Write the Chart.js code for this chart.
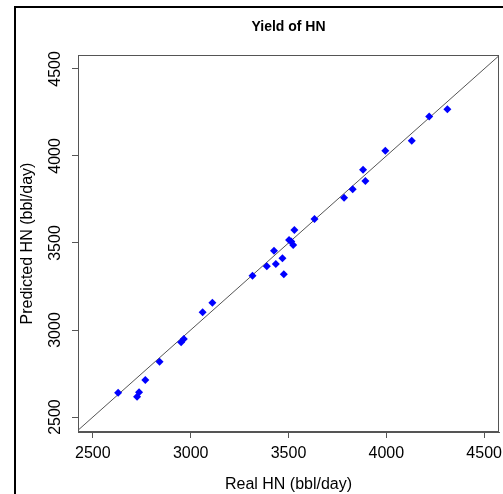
<!DOCTYPE html>
<html>
<head>
<meta charset="utf-8">
<script src="https://cdn.jsdelivr.net/npm/chart.js@4.4.0/dist/chart.umd.min.js"></script>
<style>
  html, body { margin: 0; padding: 0; background: #fff; }
</style>
</head>
<body>
<canvas id="yieldChart" width="503" height="494"></canvas>
<script>
// Données
const realHN = [2629, 2726, 2736, 2768, 2841, 2951, 2965, 3061, 3111, 3316, 3389, 3426, 3435, 3469,
                3476, 3503, 3514, 3524, 3530, 3633, 3784, 3828, 3881, 3893, 3995, 4130, 4219, 4312];
const predHN = [2640, 2617, 2642, 2713, 2818, 2929, 2948, 3102, 3157, 3312, 3366, 3456, 3379, 3412,
                3320, 3517, 3508, 3489, 3575, 3638, 3760, 3808, 3921, 3856, 4030, 4088, 4226, 4268];
const tickValues = [2500, 3000, 3500, 4000, 4500];
const xRange = [2424, 4576];
const yRange = [2414, 4580];
const diagonal = [2400, 4600];

const font = 'Liberation Sans, Arial, sans-serif';

// cadre, titre et étiquettes de l'axe y
const framePlugin = {
    id: 'frame',
    beforeDraw(chart) {
        const ctx = chart.ctx;
        ctx.save();
        ctx.fillStyle = '#fff';
        ctx.fillRect(0, 0, chart.width, chart.height);
        ctx.restore();
    },
    afterDraw(chart) {
        const { ctx, chartArea: a, scales } = chart;
        ctx.save();
        ctx.strokeStyle = '#555';
        ctx.lineWidth = 1;
        ctx.strokeRect(a.left + 0.5, a.top + 0.5, a.right - a.left - 1, a.bottom - a.top - 1);

        ctx.strokeStyle = '#000';
        ctx.lineWidth = 2;
        ctx.beginPath();
        ctx.moveTo(15, chart.height);
        ctx.lineTo(15, 7);
        ctx.lineTo(chart.width, 7);
        ctx.stroke();

        ctx.fillStyle = '#000';
        ctx.font = 'bold 14px ' + font;
        ctx.textAlign = 'center';
        ctx.textBaseline = 'middle';
        ctx.fillText('Yield of HN', (a.left + a.right) / 2, 27);

        ctx.font = '16px ' + font;
        tickValues.forEach(v => {
            const py = scales.y.getPixelForValue(v);
            ctx.save();
            ctx.translate(56, py);
            ctx.rotate(-Math.PI / 2);
            ctx.fillText(String(v), 0, 0);
            ctx.restore();
        });
        ctx.restore();
    }
};

const chart = new Chart(document.getElementById('yieldChart'), {
    type: 'scatter',
    data: {
        datasets: [
            {
                label: 'HN',
                data: realHN.map((x, i) => ({ x: x, y: predHN[i] })),
                backgroundColor: '#0000ff',
                borderColor: '#0000ff',
                pointStyle: 'rectRot',
                pointRadius: 4,
                borderWidth: 0,
            },
            {
                type: 'line',
                label: 'y = x',
                data: diagonal.map(v => ({ x: v, y: v })),
                borderColor: '#555',
                borderWidth: 1,
                pointRadius: 0,
                fill: false,
                order: 1,
            },
        ],
    },
    options: {
        responsive: false,
        animation: false,
        layout: { padding: { top: 55, right: 2, left: 0, bottom: 0 } },
        plugins: {
            legend: { display: false },
            tooltip: { enabled: false },
        },
        scales: {
            x: {
                type: 'linear',
                min: xRange[0],
                max: xRange[1],
                afterBuildTicks: s => { s.ticks = tickValues.map(v => ({ value: v })); },
                afterFit: s => { s.height = 62; s.paddingLeft = 0; s.paddingRight = 0; },
                grid: { drawOnChartArea: false, tickLength: 6, tickColor: '#555' },
                border: { color: '#555' },
                ticks: { color: '#000', font: { family: font, size: 16 }, padding: 6, maxRotation: 0,
                         callback: v => String(v) },
                title: { display: true, text: 'Real HN (bbl/day)', color: '#000',
                         font: { family: font, size: 16 }, padding: { top: 0, bottom: 0 } },
            },
            y: {
                type: 'linear',
                min: yRange[0],
                max: yRange[1],
                afterBuildTicks: s => { s.ticks = tickValues.map(v => ({ value: v })); },
                afterFit: s => { s.width = 78; s.paddingTop = 0; s.paddingBottom = 0; },
                grid: { drawOnChartArea: false, tickLength: 6, tickColor: '#555' },
                border: { color: '#555' },
                ticks: { display: false },
                title: { display: true, text: 'Predicted HN (bbl/day)', color: '#000',
                         font: { family: font, size: 16 }, padding: { top: 18, bottom: 0 } },
            },
        },
    },
    plugins: [framePlugin],
});
</script>
</body>
</html>
